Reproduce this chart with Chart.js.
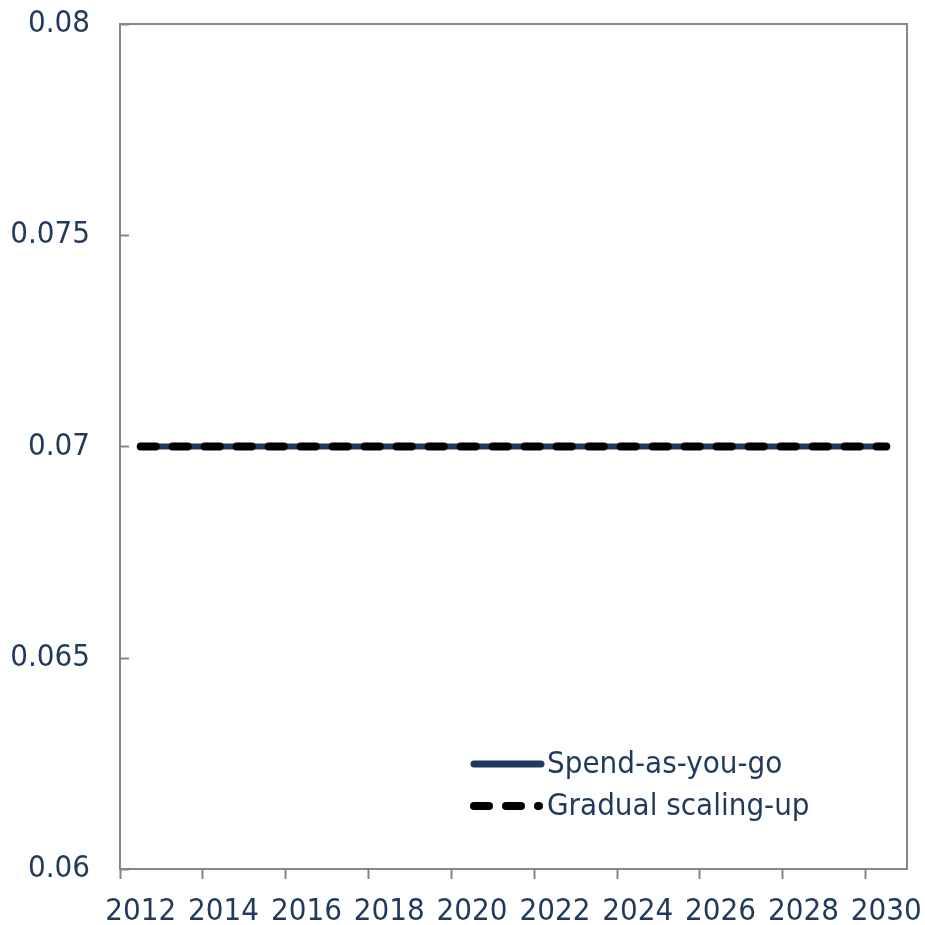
<!DOCTYPE html>
<html>
<head>
<meta charset="utf-8">
<script src="https://cdn.jsdelivr.net/npm/chart.js@4/dist/chart.umd.min.js"></script>
<style>
  html, body { margin: 0; padding: 0; background: #fff; }
  #wrap { width: 925px; height: 925px; }
</style>
</head>
<body>
<div id="wrap"><canvas id="myChart" width="925" height="925"></canvas></div>
<script>
// dados do gráfico
const years = ['2012', '2013', '2014', '2015', '2016', '2017', '2018', '2019', '2020', '2021',
  '2022', '2023', '2024', '2025', '2026', '2027', '2028', '2029', '2030'];
const spendAsYouGo = [0.07, 0.07, 0.07, 0.07, 0.07, 0.07, 0.07, 0.07, 0.07, 0.07,
  0.07, 0.07, 0.07, 0.07, 0.07, 0.07, 0.07, 0.07, 0.07];
const gradualScalingUp = [0.07, 0.07, 0.07, 0.07, 0.07, 0.07, 0.07, 0.07, 0.07, 0.07,
  0.07, 0.07, 0.07, 0.07, 0.07, 0.07, 0.07, 0.07, 0.07];
const yTickLabels = ['0.06', '0.065', '0.07', '0.075', '0.08'];

const FONT = "'DejaVu Sans Condensed', 'Open Sans', sans-serif";
const TEXT = '#1f3a5c';
const AXIS = '#868686';

// tira o espaço extra que o chart.js reserva para rótulos que passam da borda
function noOverflow(s) {
  s.paddingLeft = 0;
  s.paddingRight = 0;
  s.paddingTop = 0;
  s.paddingBottom = 0;
}

// caixa em volta da área do gráfico + marcas internas do eixo y
const boxPlugin = {
  id: 'box',
  beforeDatasetsDraw(chart) {
    const { ctx, chartArea: a, scales } = chart;
    ctx.save();
    ctx.strokeStyle = AXIS;
    ctx.lineWidth = 2;
    ctx.strokeRect(a.left, a.top, a.right - a.left, a.bottom - a.top);
    scales.y.ticks.forEach(t => {
      const y = Math.round(scales.y.getPixelForValue(t.value)) + 0.5;
      ctx.beginPath();
      ctx.moveTo(a.left, y);
      ctx.lineTo(a.left + 9, y);
      ctx.stroke();
    });
    ctx.restore();
  }
};

// legenda desenhada dentro da área do gráfico
const legendPlugin = {
  id: 'insideLegend',
  afterDraw(chart) {
    const { ctx } = chart;
    ctx.save();
    ctx.font = '31px ' + FONT;
    ctx.textBaseline = 'middle';
    chart.data.datasets.forEach((ds, i) => {
      const y = 764 + i * 42;
      ctx.strokeStyle = ds.borderColor;
      ctx.lineWidth = ds.borderDash ? 8 : 7;
      ctx.lineCap = 'round';
      ctx.setLineDash(ds.borderDash || []);
      ctx.beginPath();
      ctx.moveTo(474, y);
      ctx.lineTo(ds.borderDash ? 539 : 541, y);
      ctx.stroke();
      ctx.setLineDash([]);
      ctx.fillStyle = TEXT;
      ctx.fillText(ds.label, 547, y + 1);
    });
    ctx.restore();
  }
};

new Chart(document.getElementById('myChart').getContext('2d'), {
  type: 'line',
  data: {
    labels: years,
    datasets: [
      {
        label: 'Spend-as-you-go',
        data: spendAsYouGo,
        borderColor: '#1f3a5f',
        borderWidth: 6,
        borderCapStyle: 'round',
        pointRadius: 0,
        tension: 0,
        order: 2
      },
      {
        label: 'Gradual scaling-up',
        data: gradualScalingUp,
        borderColor: '#000000',
        borderWidth: 8,
        borderDash: [15, 17],
        borderCapStyle: 'round',
        pointRadius: 0,
        tension: 0,
        order: 1
      }
    ]
  },
  options: {
    responsive: false,
    animation: false,
    devicePixelRatio: 1,
    layout: { padding: { top: 24, right: 18, left: 0, bottom: 0 } },
    plugins: { legend: { display: false }, tooltip: { enabled: false } },
    scales: {
      x: {
        type: 'category',
        offset: true,
        grid: {
          offset: true,
          drawOnChartArea: false,
          drawTicks: true,
          tickLength: 10,
          tickWidth: 2,
          color: c => (c.index % 2 === 0 ? AXIS : 'rgba(0,0,0,0)')
        },
        border: { display: true, color: AXIS, width: 2 },
        ticks: {
          autoSkip: false,
          maxRotation: 0,
          minRotation: 0,
          padding: 14,
          color: TEXT,
          font: { family: FONT, size: 31 },
          callback: (v, i) => (i % 2 === 0 ? years[i] : '')
        },
        afterFit: s => { s.height = 56; noOverflow(s); }
      },
      y: {
        min: 0.06,
        max: 0.08,
        grid: { display: false, drawTicks: false },
        border: { display: true, color: AXIS, width: 2 },
        ticks: {
          stepSize: 0.005,
          padding: 30,
          color: TEXT,
          font: { family: FONT, size: 31 },
          callback: (v, i) => yTickLabels[i]
        },
        afterFit: s => { s.width = 120; noOverflow(s); }
      }
    }
  },
  plugins: [boxPlugin, legendPlugin]
});
</script>
</body>
</html>
